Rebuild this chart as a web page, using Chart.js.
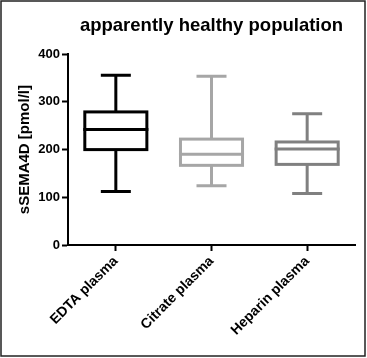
<!DOCTYPE html>
<html>
<head>
<meta charset="utf-8">
<script src="https://cdn.jsdelivr.net/npm/chart.js@4"></script>
<style>
  html, body { margin: 0; padding: 0; background: #fff; }
  #wrap { width: 367px; height: 358px; position: relative; }
</style>
</head>
<body>
<div id="wrap"><canvas id="chart"></canvas></div>
<script>
// box plot values (pmol/l)
const categories = ['EDTA plasma', 'Citrate plasma', 'Heparin plasma'];
const minValues = [112, 124, 108];
const q1Values = [200, 167, 169];
const medianValues = [242, 190, 201];
const q3Values = [279, 222, 216];
const maxValues = [356, 354, 275];
const yTicks = [0, 100, 200, 300, 400];

const colors = ['#000000', '#a6a6a6', '#808080'];

Chart.defaults.font.family = "'Liberation Sans', Arial, sans-serif";
Chart.defaults.color = '#000';

// box outline, median line + whiskers, drawn through the chart scales
const boxPlot = {
  id: 'boxPlot',
  afterDatasetsDraw(chart) {
    const { ctx, scales: { x, y } } = chart;
    const meta = chart.getDatasetMeta(0);
    ctx.save();
    ctx.lineWidth = 3;
    ctx.lineCap = 'butt';
    categories.forEach((c, i) => {
      const cx = x.getPixelForValue(i);
      const half = meta.data[i].width / 2;
      const cap = 15;
      const yMin = y.getPixelForValue(minValues[i]);
      const yQ1 = y.getPixelForValue(q1Values[i]);
      const yMed = y.getPixelForValue(medianValues[i]);
      const yQ3 = y.getPixelForValue(q3Values[i]);
      const yMax = y.getPixelForValue(maxValues[i]);
      ctx.strokeStyle = colors[i];
      ctx.beginPath();
      ctx.moveTo(cx, yQ3);
      ctx.lineTo(cx, yMax);
      ctx.moveTo(cx - cap, yMax);
      ctx.lineTo(cx + cap, yMax);
      ctx.moveTo(cx, yQ1);
      ctx.lineTo(cx, yMin);
      ctx.moveTo(cx - cap, yMin);
      ctx.lineTo(cx + cap, yMin);
      ctx.moveTo(cx - half, yMed);
      ctx.lineTo(cx + half, yMed);
      ctx.stroke();
      ctx.strokeRect(cx - half + 1.5, yQ3, 2 * half - 3, yQ1 - yQ3);
    });
    ctx.restore();
  },
  afterDraw(chart) {
    // thin frame round the figure
    const { ctx, width, height } = chart;
    ctx.save();
    ctx.strokeStyle = '#222';
    ctx.lineWidth = 1.5;
    ctx.strokeRect(1, 1, width - 3, height - 3);
    ctx.restore();
  }
};

new Chart(document.getElementById('chart'), {
  type: 'bar',
  data: {
    labels: categories,
    datasets: [{
      data: q1Values.map((q1, i) => [q1, q3Values[i]]),
      backgroundColor: '#ffffff',
      borderWidth: 0,
      categoryPercentage: 1,
      barPercentage: 0.68,
    }],
  },
  options: {
    responsive: true,
    maintainAspectRatio: false,
    animation: false,
    layout: { padding: { left: 0, right: 12, top: 0, bottom: 0 } },
    plugins: {
      legend: { display: false },
      tooltip: { enabled: false },
      title: {
        display: true,
        text: 'apparently healthy population',
        fullSize: false,
        font: { size: 18.5, weight: 'bold' },
        color: '#000',
        padding: { top: 15, bottom: 17 },
      },
    },
    scales: {
      x: {
        offset: true,
        grid: { display: true, drawOnChartArea: false, drawTicks: true, tickLength: 6, tickWidth: 2, tickColor: '#000', offset: false },
        border: { color: '#000', width: 2 },
        ticks: {
          autoSkip: false,
          maxRotation: 45,
          minRotation: 45,
          padding: 2,
          font: { size: 14, weight: 'bold' },
          color: '#000',
        },
        afterFit(scale) { scale.height = 113; },
      },
      y: {
        min: 0,
        max: 400,
        afterBuildTicks(scale) { scale.ticks = yTicks.map(v => ({ value: v })); },
        grid: { display: true, drawOnChartArea: false, drawTicks: true, tickLength: 6, tickWidth: 2, tickColor: '#000' },
        border: { color: '#000', width: 2 },
        ticks: {
          padding: 2,
          font: { size: 13, weight: 'bold' },
          color: '#000',
        },
        title: {
          display: true,
          text: 'sSEMA4D [pmol/l]',
          font: { size: 15, weight: 'bold' },
          color: '#000',
          padding: { top: 16, bottom: 0 },
        },
        afterFit(scale) { scale.width = 68; },
      },
    },
  },
  plugins: [boxPlot],
});
</script>
</body>
</html>
